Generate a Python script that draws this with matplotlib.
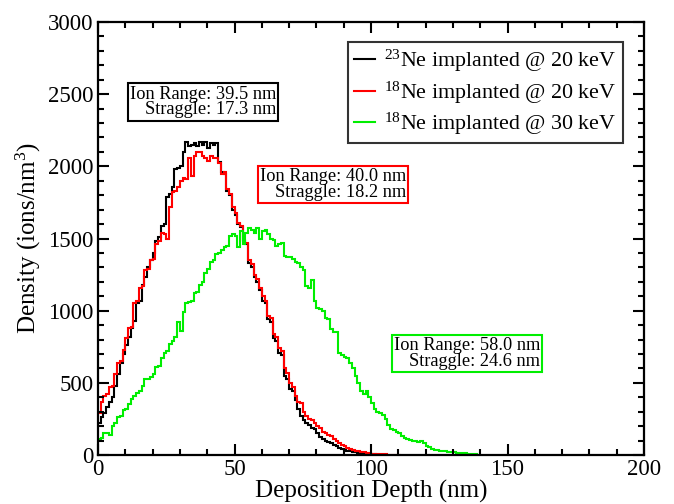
import numpy as np
import matplotlib
matplotlib.use("Agg")
import matplotlib.pyplot as plt
from matplotlib.ticker import MultipleLocator

plt.rcParams['font.family'] = ['Liberation Serif', 'DejaVu Serif']
plt.rcParams['mathtext.fontset'] = 'custom'
plt.rcParams['mathtext.rm'] = 'Liberation Serif'
plt.rcParams['mathtext.it'] = 'Liberation Serif:italic'

# density per 1-nm depth bin (bin i covers i..i+1 nm)
ne23_20keV = [220, 260, 290, 330, 370, 400, 480, 560, 640, 700,
              760, 820, 880, 930, 1050, 1070, 1180, 1230, 1300, 1350,
              1400, 1480, 1510, 1590, 1600, 1790, 1810, 1860, 1980, 1990,
              2000, 2100, 2170, 2140, 2150, 2160, 2140, 2170, 2150, 2170,
              2130, 2160, 2150, 2160, 2030, 1960, 1950, 1830, 1800, 1700,
              1660, 1600, 1580, 1480, 1460, 1330, 1300, 1230, 1200, 1140,
              1070, 1050, 940, 920, 810, 790, 710, 690, 550, 530,
              460, 440, 380, 320, 270, 240, 225, 210, 190, 180,
              150, 125, 110, 100, 90, 80, 70, 60, 50, 45,
              35, 30, 25, 20, 18, 15, 12, 10, 8, 6,
              5, 4, 3, 2, 1]

ne18_20keV = [290, 370, 410, 420, 470, 480, 560, 640, 650, 730,
              810, 880, 890, 1050, 1070, 1160, 1170, 1280, 1290, 1350,
              1360, 1460, 1480, 1540, 1530, 1500, 1720, 1820, 1830, 1860,
              1900, 1920, 1910, 2060, 1930, 2070, 2100, 2100, 2070, 2060,
              2040, 2070, 2060, 2060, 2020, 1950, 1960, 1840, 1810, 1720,
              1680, 1610, 1590, 1490, 1470, 1350, 1320, 1250, 1220, 1160,
              1100, 1070, 960, 950, 840, 820, 740, 720, 600, 570,
              500, 470, 410, 370, 360, 300, 270, 250, 243, 220,
              200, 190, 160, 150, 140, 130, 110, 95, 85, 70,
              60, 50, 45, 35, 30, 25, 20, 18, 15, 12,
              10, 8, 7, 6, 5, 4, 3, 3, 2, 2,
              1]

ne18_30keV = [110, 120, 150, 150, 140, 200, 220, 260, 270, 310,
              320, 350, 390, 410, 430, 440, 480, 530, 530, 540,
              560, 610, 620, 670, 710, 720, 770, 790, 820, 920,
              860, 990, 1050, 1060, 1070, 1120, 1130, 1180, 1200, 1260,
              1290, 1340, 1350, 1390, 1400, 1420, 1440, 1450, 1520, 1530,
              1520, 1440, 1550, 1460, 1540, 1570, 1560, 1540, 1570, 1500,
              1550, 1560, 1530, 1500, 1490, 1450, 1460, 1470, 1380, 1370,
              1370, 1360, 1340, 1330, 1300, 1280, 1170, 1160, 1210, 1070,
              1020, 1010, 1000, 950, 940, 870, 850, 850, 710, 690,
              680, 670, 640, 600, 550, 500, 440, 420, 440, 400,
              360, 320, 300, 290, 280, 250, 210, 180, 170, 160,
              150, 130, 115, 110, 105, 95, 100, 90, 100, 80,
              60, 55, 40, 38, 32, 30, 28, 25, 22, 20,
              18, 16, 14, 13, 12, 10, 8, 6, 4, 2]

series = [
    (ne23_20keV, 'black', r'$^{23}$Ne implanted @ 20 keV'),
    (ne18_20keV, 'red', r'$^{18}$Ne implanted @ 20 keV'),
    (ne18_30keV, '#00ee00', r'$^{18}$Ne implanted @ 30 keV'),
]

annotations = [
    ('Ion Range: 39.5 nm\nStraggle: 17.3 nm', 'black', 38.5, 2446),
    ('Ion Range: 40.0 nm\nStraggle: 18.2 nm', 'red', 86.1, 1875),
    ('Ion Range: 58.0 nm\nStraggle: 24.6 nm', '#00ee00', 135.2, 703),
]

fig = plt.figure(figsize=(6.74, 5.04), dpi=100)
ax = fig.add_axes([98/674, 1-455/504, (644-98)/674, (455-22)/504])

for vals, col, lab in series:
    edges = np.arange(len(vals) + 1)
    ax.stairs(vals, edges, color=col, lw=1.5, label=lab, baseline=None)

for txt, col, x, y in annotations:
    ax.text(x, y, txt, ha='center', va='center', multialignment='right',
            fontsize=13.2, linespacing=0.9,
            bbox=dict(boxstyle='square,pad=0.12', fc='white', ec=col, lw=1.5))

ax.set_xlim(0, 200)
ax.set_ylim(0, 3000)
ax.xaxis.set_major_locator(MultipleLocator(50))
ax.xaxis.set_minor_locator(MultipleLocator(10))
ax.yaxis.set_major_locator(MultipleLocator(500))
ax.yaxis.set_minor_locator(MultipleLocator(100))
ax.tick_params(which='both', direction='in', top=True, right=True, width=1.5)
ax.tick_params(which='major', length=8, labelsize=16.5, pad=3)
ax.tick_params(which='minor', length=4)
for s in ax.spines.values():
    s.set_linewidth(1.6)

ax.set_xlabel('Deposition Depth (nm)', fontsize=18, labelpad=0)
ax.set_ylabel(r'Density (ions/nm$^{3}$)', fontsize=18, labelpad=4)

leg = ax.legend(loc='upper right', bbox_to_anchor=(0.9615, 0.9538), fontsize=15.8,
                frameon=True, fancybox=False, edgecolor='black',
                handlelength=0.95, handletextpad=0.45, borderpad=0.28,
                labelspacing=0.24, borderaxespad=0)
leg.get_frame().set_linewidth(1.5)

fig.savefig('out.png', dpi=100)
